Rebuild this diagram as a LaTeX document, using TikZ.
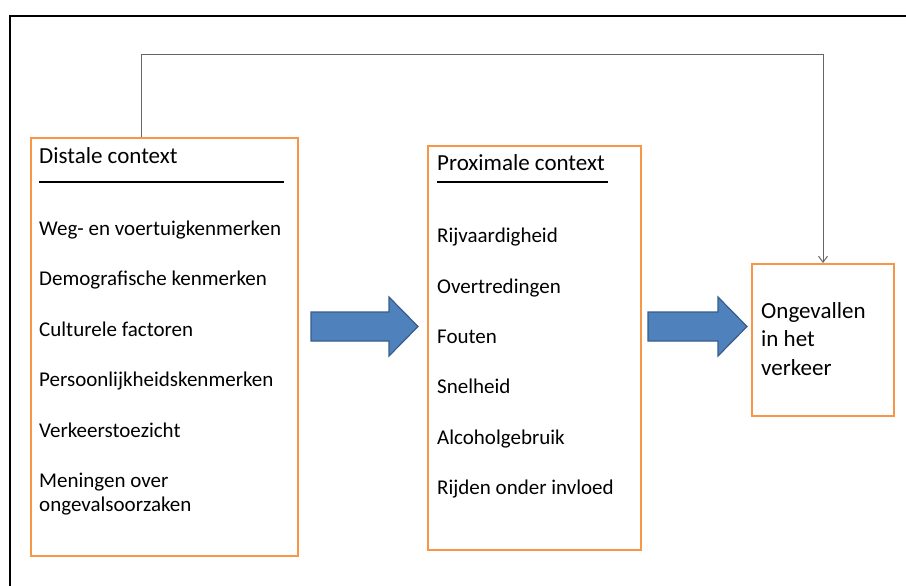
\documentclass[tikz,border=0pt]{standalone}
\usepackage{fontspec}
\setmainfont{Carlito}
\usetikzlibrary{arrows.meta,positioning}

\definecolor{boxorange}{HTML}{F79646}
\definecolor{arrowblue}{HTML}{4F81BD}
\definecolor{arrowedge}{HTML}{385D8A}

% block arrow: start x, head start x, tip x
\newcommand*{\blockarrow}[3]{%
\filldraw[fill=arrowblue, draw=arrowedge, line width=1.2pt, line join=miter]
  (#1,312) -- (#2,312) -- (#2,297) -- (#3,326.5) -- (#2,356) -- (#2,341) -- (#1,341) -- cycle;}

\begin{document}
\begin{tikzpicture}[x=1pt, y=-1pt,
  ctxbox/.style={draw=boxorange, line width=2pt, rectangle, anchor=north west, inner sep=0pt},
  ttl/.style={anchor=base west, inner sep=0pt, font=\fontsize{23}{28.3}\selectfont},
  lbl/.style={anchor=base west, inner sep=0pt, font=\fontsize{21}{24}\selectfont},
  linkline/.style={draw=black!60, line width=1pt}]

\useasboundingbox (0,0) rectangle (906,586);

\draw[line width=2pt] (10,16) rectangle (930,610);

% the three boxes
\node[ctxbox, minimum width=267pt, minimum height=418pt] (distal) at (30,137) {};
\node[ctxbox, minimum width=213pt, minimum height=404pt] (proximal) at (427,145) {};
\node[ctxbox, minimum width=142pt, minimum height=152pt] (ongeval) at (751,263) {};

% distal context
\node[ttl] (dtitle) at (39,164) {Distale context};
\draw[line width=2pt] (39,182) -- (284,182);
\foreach \txt [count=\i] in {Weg- en voertuigkenmerken, Demografische kenmerken,
    Culturele factoren, Persoonlijkheidskenmerken, Verkeerstoezicht}
  \node[lbl] (dist\i) at (39,{235+50.5*(\i-1)}) {\txt};
\node[lbl] (dist6) at (39,487.7) {Meningen over};
\node[lbl] (dist7) at (39,511.5) {ongevalsoorzaken};

% proximal context
\node[ttl] (ptitle) at (437,170.7) {Proximale context};
\draw[line width=2pt] (437,182.3) -- (608,182.3);
\foreach \txt [count=\i] in {Rijvaardigheid, Overtredingen, Fouten, Snelheid,
    Alcoholgebruik, Rijden onder invloed}
  \node[lbl] (prox\i) at (437,{242.7+50.4*(\i-1)}) {\txt};

% outcome
\node[ttl] (out1) at (761,318.3) {Ongevallen};
\node[ttl] (out2) at (761,346.7) {in het};
\node[ttl] (out3) at (761,375) {verkeer};

\blockarrow{311}{389}{418}
\blockarrow{648}{718}{747}

\coordinate (bend) at (141,55);
\draw[linkline, -{Straight Barb[length=6pt, width=9pt]}]
  (distal.north west -| bend) -- (bend) -| (ongeval.north);
\end{tikzpicture}
\end{document}
